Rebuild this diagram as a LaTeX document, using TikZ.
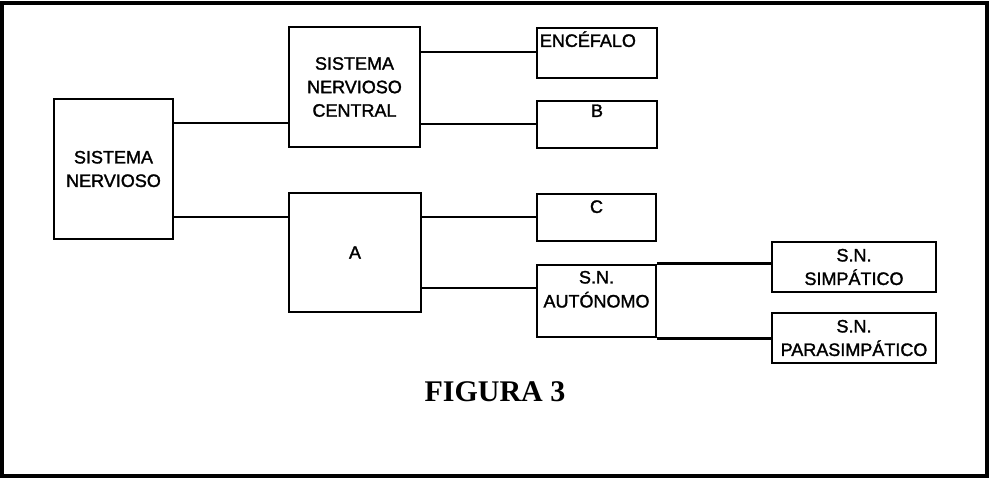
\documentclass[tikz,border=0pt]{standalone}
\usepackage{fontspec}
\setmainfont{Liberation Sans}
\newfontfamily\figfont{Liberation Serif}
\newfontfamily\boxfont{Liberation Sans}[FakeBold=1.6]
\begin{document}
\begin{tikzpicture}[x=1pt,y=-1pt,
  box/.style={draw, line width=2.6pt, rectangle, inner sep=0pt, align=center,
    font=\boxfont\fontsize{18}{23.5}\selectfont},
  toplbl/.style={inner sep=0pt, align=center, text height=13pt,
    font=\boxfont\fontsize{18}{24}\selectfont},
  toplbltwo/.style={inner sep=0pt, align=center,
    font=\boxfont\fontsize{18}{24}\selectfont},
  conn/.style={line width=2.6pt}]
\useasboundingbox (0,0) rectangle (989,478);
\draw[line width=3.2pt] (2,3) rectangle (987,476);
% boxes
\node[box, minimum width=119pt, minimum height=140pt] (sn) at (113.5,169) {SISTEMA\\NERVIOSO};
\node[box, minimum width=131pt, minimum height=120pt] (snc) at (354.5,87) {SISTEMA\\NERVIOSO\\CENTRAL};
\node[box, minimum width=132pt, minimum height=119pt] (a) at (355,252.5) {A};
\node[box, minimum width=120pt, minimum height=50pt,
  label={[toplbl, anchor=north west, xshift=4pt, yshift=-7pt]north west:ENCÉFALO}] (enc) at (597,53) {};
\node[box, minimum width=120pt, minimum height=47pt,
  label={[toplbl, anchor=north, yshift=-4pt]north:B}] (b) at (597,124.5) {};
\node[box, minimum width=119pt, minimum height=47pt,
  label={[toplbl, anchor=north, yshift=-7pt]north:C}] (c) at (596.5,217.5) {};
\node[box, minimum width=119pt, minimum height=72pt,
  label={[toplbltwo, anchor=north, yshift=-7pt]north:S.N.\\AUTÓNOMO}] (sna) at (596.5,301) {};
\node[box, minimum width=164pt, minimum height=50pt] (simp) at (854,267) {S.N.\\SIMPÁTICO};
\node[box, minimum width=164pt, minimum height=50pt] (para) at (854,338) {S.N.\\PARASIMPÁTICO};
% caption
\node[font=\figfont\bfseries\fontsize{30}{36}\selectfont, anchor=base, inner sep=0pt] (fig) at (495,402) {FIGURA 3};
% connector levels
\coordinate (y1) at (0,123);
\coordinate (y2) at (0,217);
\coordinate (y3) at (0,52);
\coordinate (y4) at (0,124);
\coordinate (y5) at (0,288);
% connectors
\draw[conn] (sn.east |- y1) -- (snc.west |- y1);
\draw[conn] (sn.east |- y2) -- (a.west |- y2);
\draw[conn] (snc.east |- y3) -- (enc.west |- y3);
\draw[conn] (snc.east |- y4) -- (b.west |- y4);
\draw[conn] (a.east |- y2) -- (c.west |- y2);
\draw[conn] (a.east |- y5) -- (sna.west |- y5);
\draw[conn] (sna.north east) -- (simp.west |- sna.north east);
\draw[conn] (sna.south east) -- (para.west |- sna.south east);
\end{tikzpicture}
\end{document}
